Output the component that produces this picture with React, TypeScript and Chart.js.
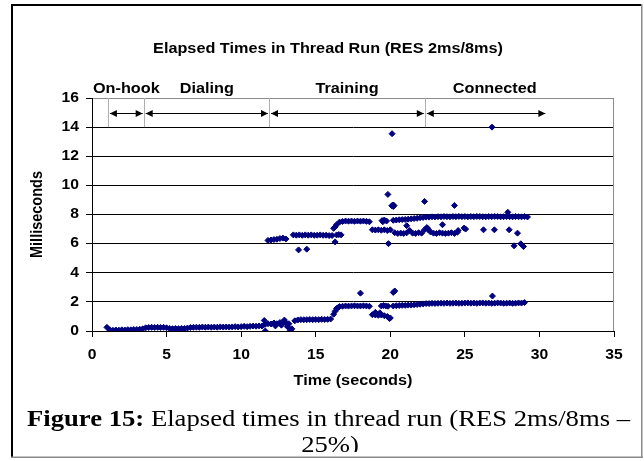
import React, { useEffect, useRef } from "react";
import { Chart, registerables } from "chart.js";

Chart.register(...registerables);

// ---------- text ----------
const titleText = "Elapsed Times in Thread Run (RES 2ms/8ms)";
const xAxisTitle = "Time (seconds)";
const yAxisTitle = "Milliseconds";
const captionBold = "Figure 15:";
const captionRest = " Elapsed times in thread run (RES 2ms/8ms \u2013";
const captionLine2 = "25%)";

// ---------- axes ----------
const xMin = 0;
const xMax = 35;
const xStep = 5;
const yMin = 0;
const yMax = 16;
const yStep = 2;

// ---------- phases ----------
const phaseNames = ["On-hook", "Dialing", "Training", "Connected"];
const phaseStarts = [1.1, 3.5, 11.9, 22.35];
const phaseEnds = [3.5, 11.9, 22.35, 30.5];
const phaseLabelAt = [2.3, 7.7, 17.1, 27.0];
const phaseArrowLevel = 15;
const phaseMarkTop = 16;
const phaseMarkBottom = 14;

// ---------- data (sampled every 0.2 s) ----------
const sampleStep = 0.2;

// lower band, t = 1.0 .. 29.0
const lowStart = 1.0;
const lowBand = [
  0.25,
  0.08, 0.05, 0.07, 0.06, 0.08, 0.07, 0.09, 0.08, 0.1, 0.1, 0.12, 0.15,
  0.22, 0.24, 0.25, 0.24, 0.25, 0.24, 0.25, 0.22,
  0.18, 0.16, 0.17, 0.16, 0.18, 0.17, 0.2,
  0.24, 0.25, 0.26, 0.25, 0.27, 0.26, 0.27, 0.26, 0.27, 0.26, 0.28, 0.27, 0.28, 0.27, 0.28, 0.3, 0.28,
  0.3, 0.32, 0.3, 0.32, 0.34, 0.33, 0.35, 0.34,
  0.45, 0.5, 0.48, 0.55, 0.5, 0.58, 0.62, 0.55, 0.5, 0.15,
  0.7, 0.76, 0.78, 0.77, 0.78, 0.79, 0.78, 0.79, 0.78, 0.8, 0.79, 0.8, 0.82,
  1.15, 1.55,
  1.68, 1.7, 1.72, 1.71, 1.72, 1.73, 1.72, 1.72, 1.73, 1.72, 1.7,
  1.12, 1.1, 1.08, 1.1, 1.05, 1.0, 0.9,
  1.72, 1.74, 1.75, 1.76, 1.76, 1.78, 1.78, 1.8, 1.82, 1.84, 1.86, 1.88,
  1.88, 1.9, 1.89, 1.9, 1.91, 1.9, 1.92, 1.9, 1.91, 1.92, 1.9, 1.91, 1.92, 1.93, 1.91, 1.92, 1.9,
  1.92, 1.93, 1.91, 1.92, 1.9, 1.91, 1.93, 1.92, 1.9, 1.91, 1.92, 1.9, 1.91, 1.93, 1.92, 1.95,
];

// upper band pieces
const upA_start = 11.8;
const upA = [6.22, 6.25, 6.28, 6.3, 6.35, 6.38, 6.32];
const upB_start = 13.5;
const upB = [6.6, 6.58, 6.6, 6.57, 6.6, 6.58, 6.6, 6.57, 6.58, 6.6, 6.57, 6.58, 6.55, 6.56];
const upC_start = 16.2;
const upC = [
  7.05, 7.3, 7.48,
  7.52, 7.55, 7.54, 7.55, 7.53, 7.55, 7.54, 7.55, 7.53, 7.5,
  6.95, 6.93, 6.95, 6.92, 6.95, 6.9, 6.95,
  7.6, 7.62, 7.64, 7.65, 7.66, 7.68, 7.7, 7.72, 7.74, 7.78, 7.8, 7.82,
  7.82, 7.84, 7.83, 7.85, 7.84, 7.86, 7.85, 7.84, 7.86, 7.85,
  7.87, 7.85, 7.86, 7.84, 7.86, 7.85, 7.87, 7.86, 7.85, 7.84,
  7.86, 7.85, 7.87, 7.86, 7.84, 7.85, 7.86, 7.85, 7.84, 7.86,
  7.85, 7.84, 7.86, 7.83,
];
const upD_start = 20.3;
const upD = [
  6.75, 6.7, 6.72, 6.7, 6.74, 6.9, 6.72, 6.7, 6.75, 6.72, 6.95,
  7.05, 6.8, 6.72, 6.7, 6.75, 6.72, 6.7, 6.72, 6.75, 6.7, 6.78,
];

// scattered points
const extraT = [
  11.55, 11.62, 12.3, 12.7, 12.9, 13.1, 13.3, 16.3, 16.5, 18.0, 19.0, 19.3,
  19.4, 19.55, 19.7, 19.85, 19.95, 20.2, 20.3, 26.85,
  13.85, 14.4, 16.3, 16.4, 16.55, 16.7, 16.3, 19.45, 19.6, 19.75, 19.5,
  19.84, 20.1, 20.18, 20.25, 20.2, 19.88, 22.3, 24.3, 27.88,
  21.1, 22.45, 22.55, 23.5, 24.55, 24.95, 25.05, 26.25, 26.98, 27.97,
  28.53, 28.3, 28.75, 28.93, 20.12, 26.82,
];
const extraV = [
  0.72, 0.0, 0.35, 0.4, 0.75, 0.3, 0.05, 1.35, 1.6, 2.6, 1.28, 1.25,
  1.72, 1.75, 1.72, 1.7, 0.85, 2.65, 2.75, 2.4,
  5.57, 5.62, 6.12, 6.6, 6.62, 6.6, 7.15, 7.58, 7.62, 7.55, 7.5,
  9.38, 8.6, 8.65, 8.62, 8.55, 6.0, 8.9, 8.62, 8.15,
  7.23, 7.1, 6.95, 7.3, 6.9, 7.07, 7.0, 6.95, 6.95, 6.95,
  6.72, 5.85, 5.99, 5.8, 13.55, 14.0,
];

// ---------- helpers ----------
const toPoints = (t0: number, dt: number, vals: number[]) =>
  vals.map((v, i) => ({ x: Math.round((t0 + i * dt) * 100) / 100, y: v }));

const SANS = "'Liberation Sans', Arial, sans-serif";
const SERIF = "'Liberation Serif', 'Times New Roman', serif";
const STRETCH = 1.12;

function drawText(
  ctx: CanvasRenderingContext2D,
  text: string,
  x: number,
  y: number,
  font: string,
  align: CanvasTextAlign,
  baseline: CanvasTextBaseline = "alphabetic",
  sx = STRETCH
) {
  ctx.save();
  ctx.font = font;
  ctx.textAlign = align;
  ctx.textBaseline = baseline;
  ctx.translate(x, y);
  ctx.scale(sx, 1);
  ctx.fillText(text, 0, 0);
  ctx.restore();
}

const decorPlugin = {
  id: "decor",
  afterDraw(chart: any) {
    const { ctx, chartArea: ca } = chart;
    const xs = chart.scales.x;
    const ys = chart.scales.y;
    ctx.save();
    ctx.fillStyle = "#000";

    // plot area right border
    ctx.strokeStyle = "#8c8c8c";
    ctx.lineWidth = 1;
    ctx.beginPath();
    ctx.moveTo(Math.round(ca.right) - 0.5, ca.top);
    ctx.lineTo(Math.round(ca.right) - 0.5, ca.bottom);
    ctx.stroke();

    // tick labels
    const tickFont = `bold 14px ${SANS}`;
    xs.ticks.forEach((t: any) => {
      drawText(ctx, String(t.value), xs.getPixelForValue(t.value), ca.bottom + 24, tickFont, "center", "middle");
    });
    ys.ticks.forEach((t: any) => {
      drawText(ctx, String(t.value), ca.left - 13, ys.getPixelForValue(t.value), tickFont, "right", "middle");
    });

    // axis titles
    drawText(ctx, xAxisTitle, (ca.left + ca.right) / 2, 385, `bold 14.5px ${SANS}`, "center");
    ctx.save();
    ctx.font = `bold 14.5px ${SANS}`;
    ctx.textAlign = "center";
    ctx.textBaseline = "middle";
    ctx.translate(38, (ca.top + ca.bottom) / 2);
    ctx.rotate(-Math.PI / 2);
    ctx.scale(1, STRETCH);
    ctx.fillText(yAxisTitle, 0, 0);
    ctx.restore();

    // chart title
    drawText(ctx, titleText, 328, 53, `bold 14.5px ${SANS}`, "center");

    // phase markers
    const yTop = ys.getPixelForValue(phaseMarkTop);
    const yBot = ys.getPixelForValue(phaseMarkBottom);
    const yArrow = Math.round(ys.getPixelForValue(phaseArrowLevel)) + 0.5;
    ctx.strokeStyle = "#b0b0b0";
    ctx.lineWidth = 1;
    phaseStarts.forEach((t) => {
      const px = Math.round(xs.getPixelForValue(t)) + 0.5;
      ctx.beginPath();
      ctx.moveTo(px, yTop);
      ctx.lineTo(px, yBot);
      ctx.stroke();
    });
    ctx.strokeStyle = "#000";
    ctx.fillStyle = "#000";
    phaseStarts.forEach((t, i) => {
      const a = xs.getPixelForValue(t) + 1.5;
      const b = xs.getPixelForValue(phaseEnds[i]) - 1.5;
      ctx.beginPath();
      ctx.moveTo(a, yArrow);
      ctx.lineTo(b, yArrow);
      ctx.stroke();
      ctx.beginPath();
      ctx.moveTo(a, yArrow);
      ctx.lineTo(a + 7, yArrow - 3.5);
      ctx.lineTo(a + 7, yArrow + 3.5);
      ctx.closePath();
      ctx.fill();
      ctx.beginPath();
      ctx.moveTo(b, yArrow);
      ctx.lineTo(b - 7, yArrow - 3.5);
      ctx.lineTo(b - 7, yArrow + 3.5);
      ctx.closePath();
      ctx.fill();
    });
    phaseNames.forEach((n, i) => {
      drawText(ctx, n, xs.getPixelForValue(phaseLabelAt[i]), 93, `bold 14.5px ${SANS}`, "center");
    });

    // caption
    ctx.save();
    ctx.beginPath();
    ctx.rect(0, 0, 644, 452);
    ctx.clip();
    const capSize = 24;
    const fb = `bold ${capSize}px ${SERIF}`;
    const fr = `${capSize}px ${SERIF}`;
    ctx.font = fb;
    const wb = ctx.measureText(captionBold).width;
    ctx.font = fr;
    const wr = ctx.measureText(captionRest).width;
    const s = 603 / (wb + wr);
    const x0 = 328.5 - ((wb + wr) * s) / 2;
    drawText(ctx, captionBold, x0, 426, fb, "left", "alphabetic", s);
    drawText(ctx, captionRest, x0 + wb * s, 426, fr, "left", "alphabetic", s);
    drawText(ctx, captionLine2, 330, 452, fr, "center", "alphabetic", s);
    ctx.restore();

    // outer frame
    ctx.fillStyle = "#000";
    ctx.fillRect(11, 4, 631, 2);
    ctx.fillRect(11, 4, 2, 453);
    ctx.fillStyle = "#8a8a8a";
    ctx.fillRect(641, 4, 1.5, 454);
    ctx.fillRect(11, 456.5, 632, 1.5);

    ctx.restore();
  },
};

export default function App() {
  const ref = useRef<HTMLCanvasElement | null>(null);

  useEffect(() => {
    if (!ref.current) return;
    const pointStyle = {
      pointStyle: "rectRot" as const,
      pointRadius: 3,
      pointBorderWidth: 1,
      backgroundColor: "#000080",
      borderColor: "#000080",
      showLine: false,
    };
    const extras = extraT.map((t, i) => ({ x: t, y: extraV[i] }));
    const chart = new Chart(ref.current, {
      type: "scatter",
      data: {
        datasets: [
          { data: toPoints(lowStart, sampleStep, lowBand), ...pointStyle },
          { data: toPoints(upA_start, sampleStep, upA), ...pointStyle },
          { data: toPoints(upB_start, sampleStep, upB), ...pointStyle },
          { data: toPoints(upC_start, sampleStep, upC), ...pointStyle },
          { data: toPoints(upD_start, sampleStep, upD), ...pointStyle },
          { data: extras, ...pointStyle },
        ],
      },
      options: {
        responsive: false,
        animation: false,
        events: [],
        devicePixelRatio: 1,
        layout: { padding: { left: 0, top: 98, right: 30, bottom: 0 } },
        plugins: {
          legend: { display: false },
          title: { display: false },
          tooltip: { enabled: false },
        },
        scales: {
          x: {
            type: "linear",
            min: xMin,
            max: xMax,
            ticks: { stepSize: xStep, display: false },
            grid: { drawOnChartArea: false, drawTicks: true, tickLength: 6, color: "#000" },
            border: { color: "#000", width: 1 },
            afterFit: (scale: any) => {
              scale.height = 130;
            },
          },
          y: {
            type: "linear",
            min: yMin,
            max: yMax,
            ticks: { stepSize: yStep, display: false },
            grid: {
              drawTicks: true,
              tickLength: 6,
              color: (c: any) => (c.tick && c.tick.value === yMax ? "#8c8c8c" : "#000"),
              tickColor: "#000",
            },
            border: { color: "#000", width: 1 },
            afterFit: (scale: any) => {
              scale.width = 92;
            },
          },
        },
      },
      plugins: [decorPlugin],
    });
    return () => chart.destroy();
  }, []);

  return (
    <div style={{ position: "fixed", left: 0, top: 0, width: 644, height: 461, background: "#fff" }}>
      <canvas ref={ref} width={644} height={461} style={{ width: 644, height: 461, display: "block" }} />
    </div>
  );
}
